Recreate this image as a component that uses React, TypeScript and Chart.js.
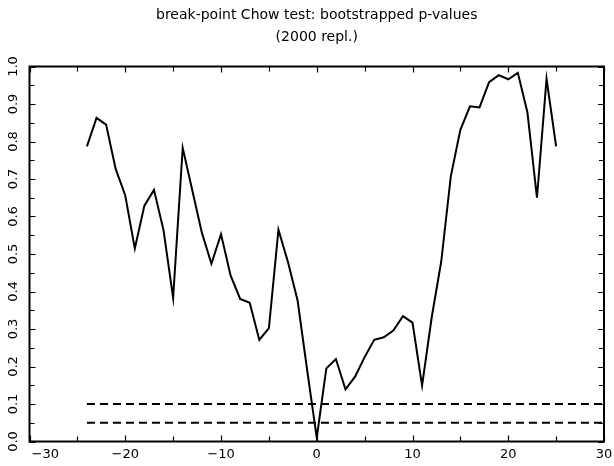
import { useEffect, useRef } from "react";
import { Chart, registerables } from "chart.js";

Chart.register(...registerables);

// Break-point position (lag) and bootstrapped p-values
const lags = [
  -24, -23, -22, -21, -20, -19, -18, -17, -16, -15,
  -14, -13, -12, -11, -10, -9, -8, -7, -6, -5,
  -4, -3, -2, -1, 0, 1, 2, 3, 4, 5,
  6, 7, 8, 9, 10, 11, 12, 13, 14, 15,
  16, 17, 18, 19, 20, 21, 22, 23, 24, 25,
];
const pValues = [
  0.787, 0.863, 0.845, 0.727, 0.656, 0.515, 0.629, 0.671, 0.563, 0.383,
  0.783, 0.67, 0.557, 0.474, 0.553, 0.443, 0.38, 0.37, 0.271, 0.302,
  0.565, 0.478, 0.376, 0.19, 0.01, 0.195, 0.22, 0.139, 0.173, 0.225,
  0.271, 0.278, 0.296, 0.334, 0.317, 0.149, 0.33, 0.48, 0.707, 0.831,
  0.894, 0.891, 0.958, 0.977, 0.966, 0.983, 0.878, 0.65, 0.967, 0.787,
];

// Significance reference lines
const refLineX = [-24, 30];
const level10 = [0.1, 0.1];
const level05 = [0.05, 0.05];

// Axes
const xMin = -30;
const xMax = 30;
const yMin = 0;
const yMax = 1;
const xTickValues = [-30, -20, -10, 0, 10, 20, 30];
const xTickLabels = ["\u221230", "\u221220", "\u221210", "0", "10", "20", "30"];
const xMinorStep = 5;
const yTickValues = [0, 0.1, 0.2, 0.3, 0.4, 0.5, 0.6, 0.7, 0.8, 0.9, 1.0];
const yTickLabels = ["0.0", "0.1", "0.2", "0.3", "0.4", "0.5", "0.6", "0.7", "0.8", "0.9", "1.0"];
const yMinorStep = 0.05;

const titleLines = ["break-point Chow test: bootstrapped p-values", "(2000 repl.)"];

const FONT = '"DejaVu Sans", "Liberation Sans", sans-serif';

const framePlugin = {
  id: "frameAndTicks",
  afterDraw(chart: any) {
    const { ctx, chartArea } = chart;
    const { left, right, top, bottom } = chartArea;
    const xs = chart.scales.x;
    const ys = chart.scales.y;
    ctx.save();
    ctx.strokeStyle = "#000";
    ctx.lineWidth = 1.2;
    // inner ticks
    const nx = Math.round((xMax - xMin) / xMinorStep);
    for (let i = 0; i <= nx; i++) {
      const v = xMin + i * xMinorStep;
      const px = Math.round(xs.getPixelForValue(v)) + 0.5;
      const len = v % 10 === 0 ? 6 : 5;
      ctx.beginPath();
      ctx.moveTo(px, bottom);
      ctx.lineTo(px, bottom - len);
      ctx.moveTo(px, top);
      ctx.lineTo(px, top + len);
      ctx.stroke();
    }
    const ny = Math.round((yMax - yMin) / yMinorStep);
    for (let i = 0; i <= ny; i++) {
      const v = yMin + i * yMinorStep;
      const py = Math.round(ys.getPixelForValue(v)) + 0.5;
      const len = i % 2 === 0 ? 6 : 5;
      ctx.beginPath();
      ctx.moveTo(left, py);
      ctx.lineTo(left + len, py);
      ctx.moveTo(right, py);
      ctx.lineTo(right - len, py);
      ctx.stroke();
    }
    // frame
    ctx.lineWidth = 2;
    ctx.strokeRect(left, top, right - left, bottom - top);

    // tick labels
    ctx.fillStyle = "#000";
    ctx.font = `13px ${FONT}`;
    ctx.textBaseline = "middle";
    xTickValues.forEach((v, i) => {
      const px = xs.getPixelForValue(v);
      if (i === 0) {
        ctx.textAlign = "left";
        ctx.fillText(xTickLabels[i], px + 2, bottom + 13.5);
      } else {
        ctx.textAlign = "center";
        ctx.fillText(xTickLabels[i], px, bottom + 13.5);
      }
    });
    yTickValues.forEach((v, i) => {
      const py = ys.getPixelForValue(v);
      ctx.save();
      ctx.translate(left - 16, py);
      ctx.rotate(-Math.PI / 2);
      ctx.textAlign = "center";
      ctx.fillText(yTickLabels[i], 0, 0);
      ctx.restore();
    });
    ctx.restore();
  },
};

export default function App() {
  const canvasRef = useRef<HTMLCanvasElement | null>(null);

  useEffect(() => {
    const canvas = canvasRef.current;
    if (!canvas) return;
    const chart = new Chart(canvas, {
      type: "line",
      data: {
        datasets: [
          {
            data: lags.map((x, i) => ({ x, y: pValues[i] })),
            borderColor: "#000",
            borderWidth: 2,
            pointRadius: 0,
            tension: 0,
            fill: false,
          },
          {
            data: refLineX.map((x, i) => ({ x, y: level10[i] })),
            borderColor: "#000",
            borderWidth: 2,
            borderDash: [8, 5],
            pointRadius: 0,
            fill: false,
          },
          {
            data: refLineX.map((x, i) => ({ x, y: level05[i] })),
            borderColor: "#000",
            borderWidth: 2,
            borderDash: [8, 5],
            pointRadius: 0,
            fill: false,
          },
        ],
      },
      options: {
        responsive: false,
        animation: false,
        events: [],
        layout: { padding: { left: 29.5, right: 10, top: 0, bottom: 24.5 } },
        plugins: {
          legend: { display: false },
          tooltip: { enabled: false },
          title: {
            display: true,
            fullSize: false,
            text: titleLines,
            color: "#000",
            font: { family: FONT, size: 14, weight: "normal", lineHeight: 22 / 14 },
            padding: { top: 4, bottom: 18.5 },
          },
        },
        scales: {
          x: {
            type: "linear",
            min: xMin,
            max: xMax,
            ticks: { display: false, stepSize: 10 },
            grid: { display: false, drawTicks: false },
            border: { display: false },
          },
          y: {
            type: "linear",
            min: yMin,
            max: yMax,
            ticks: { display: false, stepSize: 0.1 },
            grid: { display: false, drawTicks: false },
            border: { display: false },
          },
        },
      },
      plugins: [framePlugin],
    });
    return () => chart.destroy();
  }, []);

  return (
    <div style={{ position: "fixed", left: 0, top: 0, width: 614, height: 466, background: "#fff" }}>
      <canvas ref={canvasRef} width={614} height={466} style={{ display: "block" }} />
    </div>
  );
}
